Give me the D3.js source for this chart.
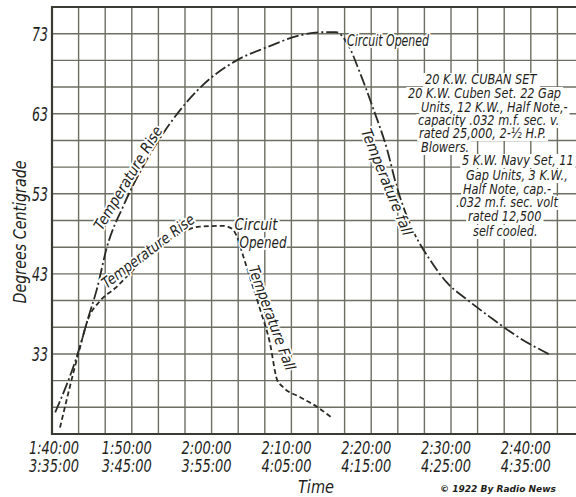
<!DOCTYPE html>
<html>
<head>
<meta charset="utf-8">
<script src="https://cdn.jsdelivr.net/npm/d3@7"></script>
<style>
  html, body { margin: 0; padding: 0; background: #fff; }
  svg { display: block; }
  text { font-family: 'DejaVu Sans Condensed', 'Liberation Sans', sans-serif; font-style: italic; fill: #1e1e1a; }
  .knock { paint-order: stroke; stroke: #fff; stroke-width: 3.5px; stroke-linejoin: round; }
</style>
</head>
<body>
<script>
// Tick labels, two time rows (20 KW set on top, 5 KW set below)
var timeLabelsCuban = ["1:40:00", "1:50:00", "2:00:00", "2:10:00", "2:20:00", "2:30:00", "2:40:00"];
var timeLabelsNavy = ["3:35:00", "3:45:00", "3:55:00", "4:05:00", "4:15:00", "4:25:00", "4:35:00"];
var tempTicks = [33, 43, 53, 63, 73];

// 20 K.W. Cuban set : minutes after first reading, degrees C
var cubanMinutes = [0.4, 3.4, 4.5, 5.6, 6.9, 8.9, 11.4, 14.8, 18.5, 23.2, 26.9, 31.1, 34.0, 35.6, 37.0, 38.6, 40.2, 42.0, 43.2, 45.2, 47.4, 49.5, 52.0, 54.9, 58.6, 62.4];
var cubanTemps = [25.7, 33.6, 37.4, 41.0, 46.4, 51.4, 56.4, 61.8, 66.2, 69.7, 71.3, 72.8, 73.2, 73.2, 71.8, 68.1, 63.8, 58.5, 53.9, 48.5, 44.7, 41.9, 39.8, 37.6, 35.0, 32.9];

// 5 K.W. Navy set
var navyMinutes = [1.0, 3.4, 4.5, 6.0, 7.9, 10.2, 13.5, 16.0, 18.5, 21.5, 22.6, 23.2, 24.0, 24.8, 26.1, 27.3, 28.2, 28.9, 31.1, 33.2, 35.1];
var navyTemps = [23.8, 33.4, 37.3, 39.6, 41.2, 43.5, 46.4, 48.0, 48.9, 49.0, 48.6, 47.6, 45.1, 42.6, 38.5, 34.4, 29.8, 28.9, 27.6, 26.4, 25.0];

// Description block on the right
var noteLines = [
  "20 K.W. CUBAN SET",
  "20 K.W. Cuben Set. 22 Gap",
  "Units, 12 K.W., Half Note,-",
  "capacity .032 m.f. sec. v.",
  "rated 25,000, 2-½ H.P.",
  "Blowers.",
  "5 K.W. Navy Set, 11",
  "Gap Units, 3 K.W.,",
  "Half Note, cap.-",
  ".032 m.f. sec. volt",
  "rated 12,500",
  "self cooled."
];

var width = 576, height = 497;

var svg = d3.select("body").append("svg")
    .attr("width", width)
    .attr("height", height);

// 20 grid cells across (3 per 10 min), 16 cells down (3 per 10 deg)
var x = d3.scaleLinear().domain([0, 200 / 3]).range([52, 584]);
var y = d3.scaleLinear().domain([23, 23 + 160 / 3]).range([434, 7]);

var cell = 10 / 3;
var gridX = d3.range(0, 21).map(function (i) { return i * cell; });
var gridY = d3.range(0, 17).map(function (i) { return 23 + i * cell; });

var grid = svg.append("g").attr("class", "grid");

grid.selectAll("line.v")
    .data(gridX)
    .enter().append("line")
    .attr("class", "v")
    .attr("x1", function (d) { return x(d); })
    .attr("x2", function (d) { return x(d); })
    .attr("y1", y.range()[1])
    .attr("y2", y.range()[0])
    .attr("stroke", "#6c6f62")
    .attr("stroke-width", 1.4);

grid.selectAll("line.h")
    .data(gridY)
    .enter().append("line")
    .attr("class", "h")
    .attr("x1", x.range()[0])
    .attr("x2", x.range()[1])
    .attr("y1", function (d) { return y(d); })
    .attr("y2", function (d) { return y(d); })
    .attr("stroke", "#6c6f62")
    .attr("stroke-width", 1.4);

// heavier frame on left, bottom and top
svg.append("path")
    .attr("d", "M" + x.range()[1] + "," + y.range()[1] + "H" + x.range()[0] + "V" + y.range()[0] + "H" + x.range()[1])
    .attr("fill", "none")
    .attr("stroke", "#3a3c33")
    .attr("stroke-width", 2.2);

// Y axis labels
svg.selectAll("text.ytick")
    .data(tempTicks)
    .enter().append("text")
    .attr("class", "ytick")
    .attr("x", 48)
    .attr("y", function (d) { return y(d) + 7; })
    .attr("text-anchor", "end")
    .attr("textLength", 16)
    .attr("lengthAdjust", "spacingAndGlyphs")
    .style("font-size", "19px")
    .text(function (d) { return d; });

svg.append("text")
    .attr("transform", "translate(26,232) rotate(-90)")
    .attr("text-anchor", "middle")
    .attr("textLength", 143)
    .attr("lengthAdjust", "spacingAndGlyphs")
    .style("font-size", "18px")
    .text("Degrees Centigrade");

// X axis labels, two rows
var labelPos = d3.range(0, 7).map(function (i) { return i * 10; });

svg.selectAll("text.xtop")
    .data(timeLabelsCuban)
    .enter().append("text")
    .attr("class", "xtop")
    .attr("x", function (d, i) { return x(labelPos[i]) - 27 + (i === 0 ? 4 : -3); })
    .attr("y", 454)
    .attr("textLength", 50)
    .attr("lengthAdjust", "spacingAndGlyphs")
    .style("font-size", "18px")
    .text(function (d) { return d; });

svg.selectAll("text.xbot")
    .data(timeLabelsNavy)
    .enter().append("text")
    .attr("class", "xbot")
    .attr("x", function (d, i) { return x(labelPos[i]) - 27 + (i === 0 ? 4 : -3); })
    .attr("y", 472)
    .attr("textLength", 50)
    .attr("lengthAdjust", "spacingAndGlyphs")
    .style("font-size", "18px")
    .text(function (d) { return d; });

svg.append("text")
    .attr("x", 316)
    .attr("y", 493)
    .attr("text-anchor", "middle")
    .attr("textLength", 36)
    .attr("lengthAdjust", "spacingAndGlyphs")
    .style("font-size", "17px")
    .text("Time");

svg.append("text")
    .attr("x", 440)
    .attr("y", 492)
    .attr("textLength", 116)
    .attr("lengthAdjust", "spacingAndGlyphs")
    .style("font-size", "9px")
    .style("font-weight", "bold")
    .text("© 1922 By Radio News");

// The two curves
var line = d3.line()
    .x(function (d) { return x(d[0]); })
    .y(function (d) { return y(d[1]); })
    .curve(d3.curveMonotoneX);

var cubanData = d3.zip(cubanMinutes, cubanTemps);
var navyData = d3.zip(navyMinutes, navyTemps);

svg.append("path")
    .datum(cubanData)
    .attr("d", line)
    .attr("fill", "none")
    .attr("stroke", "#2a2b25")
    .attr("stroke-width", 1.8)
    .attr("stroke-dasharray", "12,3,2,3");

svg.append("path")
    .datum(navyData)
    .attr("d", line)
    .attr("fill", "none")
    .attr("stroke", "#2a2b25")
    .attr("stroke-width", 1.8)
    .attr("stroke-dasharray", "5,3");

// Curve annotations
function note(px, py, angle, len, str) {
    svg.append("text")
        .attr("class", "knock")
        .attr("transform", "translate(" + px + "," + py + ") rotate(" + angle + ")")
        .attr("text-anchor", "middle")
        .attr("dy", "0.35em")
        .attr("textLength", len)
        .attr("lengthAdjust", "spacingAndGlyphs")
        .style("font-size", "15px")
        .text(str);
}

note(128, 178, -59, 118, "Temperature Rise");
note(148, 251, -37, 112, "Temperature Rise");
note(256, 225, 0, 43, "Circuit");
note(263, 243, 0, 47, "Opened");
note(272, 318, 70, 110, "Temperature Fall");
note(388, 41, 0, 82, "Circuit Opened");
note(387, 182, 68, 114, "Temperature fall");

// Description text block, drawn a little condensed like the lettering,
// each line on a white patch that breaks the grid behind it
var noteX = [425, 408, 421, 418, 419, 421, 462, 466, 463, 456, 468, 473];
var noteY = [84, 98, 112, 125, 138, 152, 165, 180, 194, 207, 221, 236];

var descRows = svg.selectAll("g.desc")
    .data(noteLines)
    .enter().append("g")
    .attr("class", "desc")
    .attr("transform", function (d, i) { return "translate(" + noteX[i] + "," + noteY[i] + ") scale(0.9,1)"; });

descRows.append("text")
    .style("font-size", "14px")
    .text(function (d) { return d; });

descRows.each(function () {
    var g = d3.select(this);
    var box = g.select("text").node().getBBox();
    g.insert("rect", "text")
        .attr("x", box.x - 2)
        .attr("y", -11)
        .attr("width", box.width + 4)
        .attr("height", 14)
        .attr("fill", "#fff");
});
</script>
</body>
</html>
